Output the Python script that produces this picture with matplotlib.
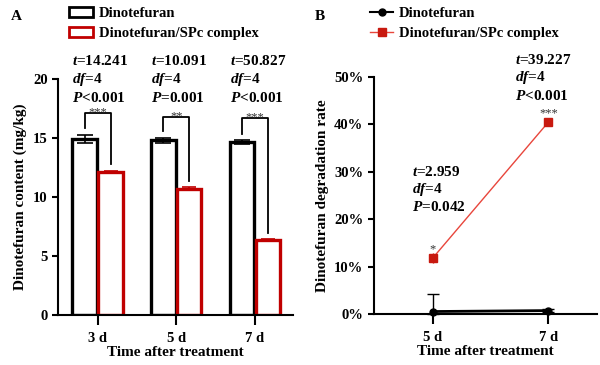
import matplotlib.pyplot as plt
from matplotlib.patches import Patch
from matplotlib.lines import Line2D
import numpy as np

plt.rcParams['font.family'] = ['Liberation Serif']
plt.rcParams['font.weight'] = 'bold'
plt.rcParams['axes.labelweight'] = 'bold'
plt.rcParams['mathtext.fontset'] = 'custom'
plt.rcParams['mathtext.it'] = 'Liberation Serif:italic:bold'
plt.rcParams['mathtext.rm'] = 'Liberation Serif:bold'

# panel A data
days_a = ['3 d', '5 d', '7 d']
dino_a = [14.9, 14.78, 14.66]
dino_a_err = [0.35, 0.22, 0.15]
spc_a = [12.15, 10.7, 6.35]
spc_a_err = [0.08, 0.1, 0.07]
stars_a = ['***', '**', '***']
stats_a = [('14.241', '<0.001'), ('10.091', '=0.001'), ('50.827', '<0.001')]
bracket_top = [17.1, 16.8, 16.7]

# panel B data
days_b = ['5 d', '7 d']
dino_b = [0.5, 0.7]
dino_b_err = [3.6, 0.3]
spc_b = [11.8, 40.5]
spc_b_err = [1.0, 0.6]
stars_b = ['*', '***']

red = '#C00000'

fig = plt.figure(figsize=(6, 3.65), dpi=100)
axA = fig.add_axes([0.097, 0.137, 0.391, 0.647])
axB = fig.add_axes([0.623, 0.140, 0.372, 0.649])

def style(ax):
    for s in ['top', 'right']:
        ax.spines[s].set_visible(False)
    for s in ['left', 'bottom']:
        ax.spines[s].set_linewidth(1.5)
    ax.tick_params(width=1.5, length=4, labelsize=10.5)
    ax.tick_params(axis='x', length=7, pad=5)
    for lab in ax.get_xticklabels() + ax.get_yticklabels():
        lab.set_fontweight('bold')

# ---- A ----
x = np.arange(len(days_a))
w = 0.31
axA.bar(x - 0.165, dino_a, w, yerr=dino_a_err, color='white', edgecolor='black',
        linewidth=2.4, error_kw=dict(ecolor='black', elinewidth=1.2, capsize=6, capthick=1.2))
axA.bar(x + 0.165, spc_a, w, yerr=spc_a_err, color='white', edgecolor=red,
        linewidth=2.4, error_kw=dict(ecolor=red, elinewidth=1.2, capsize=5, capthick=1.2))
for i in range(3):
    xl, xr = x[i] - 0.165, x[i] + 0.165
    yl = dino_a[i] + dino_a_err[i] + 0.55
    yr = spc_a[i] + spc_a_err[i] + 0.55
    axA.plot([xl, xl, xr, xr], [yl, bracket_top[i], bracket_top[i], yr], color='black',
             lw=1.3, clip_on=False)
    axA.text(x[i], bracket_top[i] - 0.2, stars_a[i], ha='center', va='baseline',
             fontsize=9, fontweight='normal', color='#333333')
    tv, pv = stats_a[i]
    axA.text(x[i] - 0.32, 21.55, '$t$=' + tv, fontsize=11, ha='left', va='center')
    axA.text(x[i] - 0.32, 19.95, '$df$=4', fontsize=11, ha='left', va='center')
    axA.text(x[i] - 0.32, 18.35, '$P$' + pv, fontsize=11, ha='left', va='center')
axA.set_xlim(-0.5, 2.48)
axA.set_ylim(0, 20)
axA.set_yticks([0, 5, 10, 15, 20])
axA.set_xticks(x)
axA.set_xticklabels(days_a)
axA.set_xlabel('Time after treatment', fontsize=11, labelpad=1)
axA.set_ylabel('Dinotefuran content (mg/kg)', fontsize=11)
style(axA)
axA.legend(handles=[Patch(facecolor='white', edgecolor='black', lw=2, label='Dinotefuran'),
                    Patch(facecolor='white', edgecolor=red, lw=2, label='Dinotefuran/SPc complex')],
           loc='upper left', bbox_to_anchor=(0.106, 0.997), bbox_transform=fig.transFigure,
           frameon=False, fontsize=10.5, handlelength=1.6, handleheight=0.7,
           handletextpad=0.4, labelspacing=0.45, borderaxespad=0)
fig.text(0.018, 0.955, 'A', fontsize=11, va='center')

# ---- B ----
xb = np.arange(len(days_b))
dino_b_low = [min(v, e) for v, e in zip(dino_b, dino_b_err)]
axB.errorbar(xb, dino_b, yerr=[dino_b_low, dino_b_err], color='black', marker='o', ms=5,
             lw=2, capsize=4, elinewidth=1, zorder=3, clip_on=False)
axB.errorbar(xb, spc_b, yerr=spc_b_err, color='#E8463C', marker='s', ms=6, mfc='#C8190F',
             mec='#C8190F', lw=1, ecolor='#C8190F', capsize=0, zorder=3)
for i in range(2):
    axB.text(xb[i], spc_b[i] + 0.6, stars_b[i], ha='center', va='bottom',
             fontsize=9, fontweight='normal', color='#333333')
axB.text(-0.18, 30, '$t$=2.959', fontsize=11, ha='left', va='center')
axB.text(-0.18, 26.3, '$df$=4', fontsize=11, ha='left', va='center')
axB.text(-0.18, 22.5, '$P$=0.042', fontsize=11, ha='left', va='center')
axB.text(0.71, 53.5, '$t$=39.227', fontsize=11, ha='left', va='center')
axB.text(0.71, 49.8, '$df$=4', fontsize=11, ha='left', va='center')
axB.text(0.71, 46.0, '$P$<0.001', fontsize=11, ha='left', va='center')
axB.set_xlim(-0.51, 1.42)
axB.set_ylim(0, 50)
axB.set_yticks([0, 10, 20, 30, 40, 50])
axB.set_yticklabels(['0%', '10%', '20%', '30%', '40%', '50%'])
axB.set_xticks(xb)
axB.set_xticklabels(days_b)
axB.set_xlabel('Time after treatment', fontsize=11, labelpad=1)
axB.set_ylabel('Dinotefuran degradation rate', fontsize=11)
style(axB)
axB.legend(handles=[Line2D([], [], color='black', marker='o', ms=5, lw=1.5, label='Dinotefuran'),
                    Line2D([], [], color='#E8463C', marker='s', ms=6, mfc='#C8190F', mec='#C8190F',
                           lw=1, label='Dinotefuran/SPc complex')],
           loc='upper left', bbox_to_anchor=(0.607, 0.997), bbox_transform=fig.transFigure,
           frameon=False, fontsize=10.5, handlelength=1.6, handletextpad=0.4,
           labelspacing=0.45, borderaxespad=0)
fig.text(0.525, 0.955, 'B', fontsize=11, va='center')

fig.savefig('out.png', dpi=100)
